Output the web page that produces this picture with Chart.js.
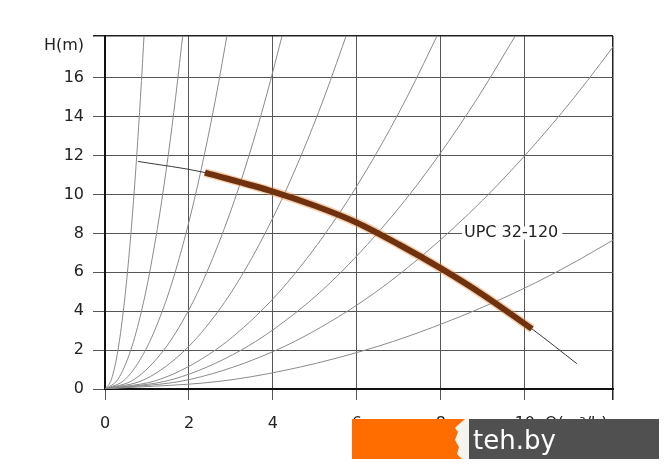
<!DOCTYPE html>
<html>
<head>
<meta charset="utf-8">
<script src="https://cdn.jsdelivr.net/npm/chart.js@4/dist/chart.umd.min.js"></script>
<style>
  html, body { margin: 0; padding: 0; background: #fff; }
  #wrap { width: 670px; height: 471px; position: relative; }
</style>
</head>
<body>
<div id="wrap"><canvas id="chart"></canvas></div>
<script>
// axis ticks
const qTicks = [0, 2, 4, 6, 8, 10];
const hTicks = [0, 2, 4, 6, 8, 10, 12, 14, 16];
const qMax = 12.1;
const hMax = 18.15;

// pump curve UPC 32-120 (thin full line, thick working range)
const pumpQ = [0.79, 2.38, 4.0, 5.0, 6.0, 7.0, 8.0, 9.0, 10.17, 11.24];
const pumpH = [11.7, 11.13, 10.15, 9.42, 8.55, 7.43, 6.2, 4.85, 3.09, 1.3];
const workQ = [2.38, 4.0, 5.0, 6.0, 7.0, 8.0, 9.0, 10.17];
const workH = [11.13, 10.15, 9.42, 8.55, 7.43, 6.2, 4.85, 3.09];

// system curves, read as Q at these heads
const sysH = [0, 0.5, 2, 4, 6, 9, 12, 15, 18.5];
const sys1 = [0, 0.154, 0.309, 0.436, 0.535, 0.655, 0.756, 0.845, 0.939];
const sys2 = [0, 0.307, 0.614, 0.869, 1.064, 1.303, 1.505, 1.682, 1.868];
const sys3 = [0, 0.482, 0.965, 1.364, 1.671, 2.046, 2.362, 2.641, 2.933];
const sys4 = [0, 0.700, 1.400, 1.980, 2.425, 2.970, 3.430, 3.835, 4.259];
const sys5 = [0, 0.953, 1.907, 2.697, 3.303, 4.045, 4.671, 5.222, 5.800];
const sys6 = [0, 1.313, 2.626, 3.714, 4.549, 5.571, 6.433, 7.192, 7.987];
const sys7 = [0, 1.622, 3.244, 4.588, 5.620, 6.882, 7.947, 8.885, 9.868];
const sys8 = [0, 2.041, 4.082, 5.774, 7.071, 8.660, 10.0, 11.18, 12.42];
const sys9 = [0, 3.101, 6.202, 8.771, 10.742, 13.16];

const pts = (qs, hs) => qs.map((q, i) => ({ x: q, y: hs[i] }));

const systemSets = [sys1, sys2, sys3, sys4, sys5, sys6, sys7, sys8, sys9].map(qs => ({
  data: pts(qs, sysH),
  borderColor: '#8a8a8a',
  borderWidth: 1,
  pointRadius: 0,
  cubicInterpolationMode: 'monotone',
  order: 3
}));

const labelsPlugin = {
  id: 'labels',
  afterDatasetsDraw(chart) {
    const { ctx, scales } = chart;
    const x = scales.x.getPixelForValue(8.55);
    const y = scales.y.getPixelForValue(8.05);
    ctx.save();
    ctx.font = '16px "DejaVu Sans"';
    const w = ctx.measureText('UPC 32-120').width;
    ctx.fillStyle = '#fff';
    ctx.fillRect(x - 2, y - 6, w + 6, 13);
    ctx.fillStyle = '#222';
    ctx.textBaseline = 'middle';
    ctx.fillText('UPC 32-120', x, y);
    ctx.restore();
  },
  afterDraw(chart) {
    const { ctx, scales } = chart;
    ctx.save();
    ctx.font = '16px "DejaVu Sans"';
    ctx.fillStyle = '#222';
    ctx.textBaseline = 'middle';
    ctx.textAlign = 'right';
    ctx.fillText('H(m)', 84, 46);
    ctx.textAlign = 'left';
    ctx.fillText('Q(m³/h)', scales.x.getPixelForValue(10) + 20, scales.x.top + 34.6);

    // teh.by badge
    ctx.fillStyle = 'rgb(255,108,0)';
    ctx.fillRect(352, 419, 114, 40);
    ctx.fillStyle = 'rgb(80,80,80)';
    ctx.fillRect(466, 419, 193, 40);
    ctx.fillStyle = '#f4f4f0';
    ctx.beginPath();
    ctx.moveTo(458, 425);
    ctx.lineTo(465, 419);
    ctx.lineTo(469, 419);
    ctx.lineTo(469, 459);
    ctx.lineTo(462, 459);
    ctx.lineTo(457, 454);
    ctx.lineTo(459, 447);
    ctx.lineTo(455, 440);
    ctx.lineTo(458, 432);
    ctx.lineTo(455, 428);
    ctx.closePath();
    ctx.fill();
    ctx.fillStyle = '#fff';
    ctx.font = '26px "DejaVu Sans"';
    ctx.textBaseline = 'alphabetic';
    ctx.fillText('teh.by', 473, 449);
    ctx.restore();
  }
};

new Chart(document.getElementById('chart'), {
  type: 'line',
  data: {
    datasets: [
      {
        data: pts(workQ, workH),
        borderColor: 'rgb(112,50,14)',
        borderWidth: 6,
        borderCapStyle: 'butt',
        pointRadius: 0,
        cubicInterpolationMode: 'monotone',
        order: 0
      },
      {
        data: pts(workQ, workH),
        borderColor: 'rgba(235,150,80,0.45)',
        borderWidth: 9,
        pointRadius: 0,
        cubicInterpolationMode: 'monotone',
        order: 1
      },
      {
        data: pts(pumpQ, pumpH),
        borderColor: '#3a3a3a',
        borderWidth: 1,
        pointRadius: 0,
        cubicInterpolationMode: 'monotone',
        order: 2
      },
      ...systemSets
    ]
  },
  options: {
    responsive: true,
    maintainAspectRatio: false,
    animation: false,
    events: [],
    layout: { padding: { left: 0, top: 36, right: 57, bottom: 0 } },
    plugins: { legend: { display: false }, tooltip: { enabled: false } },
    scales: {
      x: {
        type: 'linear',
        min: 0,
        max: qMax,
        afterBuildTicks: s => { s.ticks = [...qTicks, qMax].map(v => ({ value: v })); },
        afterFit: s => { s.height = 82; },
        grid: {
          color: c => c.tick && c.tick.value === qMax ? '#222' : '#555',
          lineWidth: c => c.tick && c.tick.value === qMax ? 1.5 : 1,
          tickLength: 11
        },
        border: { color: '#111', width: 2 },
        ticks: {
          padding: 14,
          color: '#222',
          font: { family: 'DejaVu Sans', size: 16 },
          maxRotation: 0,
          autoSkip: false,
          callback: v => qTicks.includes(v) ? String(v) : ''
        }
      },
      y: {
        type: 'linear',
        min: 0,
        max: hMax,
        afterBuildTicks: s => { s.ticks = [...hTicks, hMax].map(v => ({ value: v })); },
        afterFit: s => { s.width = 105; },
        grid: {
          color: c => c.tick && c.tick.value === hMax ? '#222' : '#555',
          lineWidth: c => c.tick && c.tick.value === hMax ? 1.5 : 1,
          tickLength: 12
        },
        border: { color: '#111', width: 2 },
        ticks: {
          padding: 9,
          color: '#222',
          font: { family: 'DejaVu Sans', size: 16 },
          autoSkip: false,
          callback: v => hTicks.includes(v) ? String(v) : ''
        }
      }
    }
  },
  plugins: [labelsPlugin]
});
</script>
</body>
</html>
